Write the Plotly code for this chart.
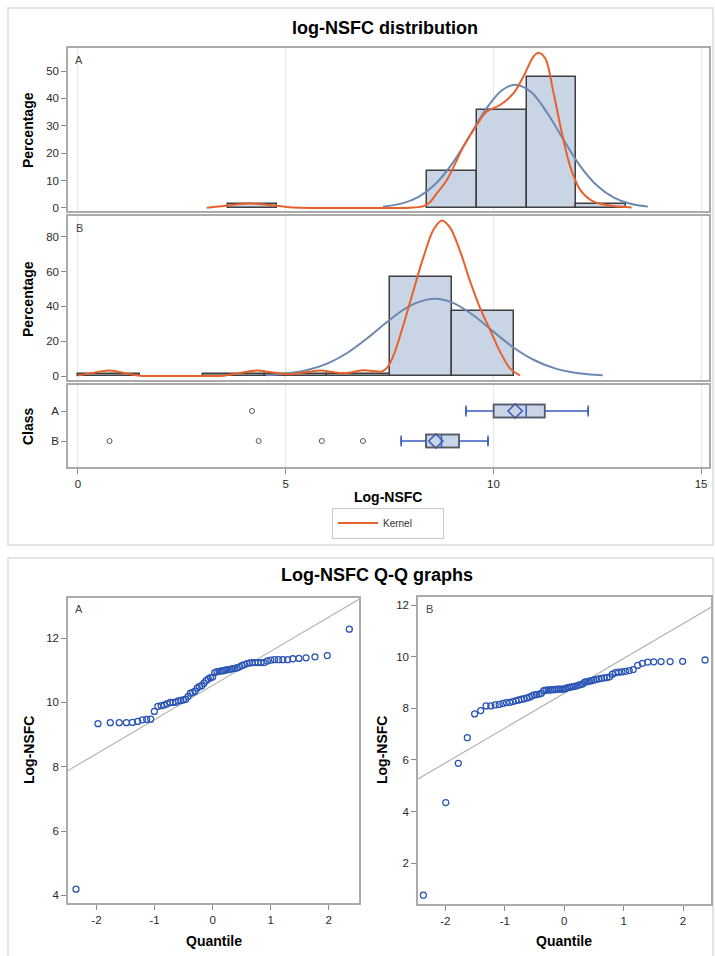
import numpy as np
import plotly.graph_objects as go

W, H = 715, 956

# ---------------- data ----------------
classes = ["A", "B"]

# sorted Log-NSFC values (class A, n=67)
lognsfc_a = [4.19, 9.34, 9.37, 9.37, 9.37, 9.38, 9.41, 9.46, 9.47, 9.48,
             9.72, 9.88, 9.90, 9.92, 9.96, 10.00, 10.00, 10.01, 10.05, 10.06,
             10.08, 10.10, 10.19, 10.29, 10.31, 10.35, 10.45, 10.50, 10.52, 10.60,
             10.68, 10.73, 10.77, 10.79, 10.93, 10.96, 10.97, 10.98, 10.99, 11.01,
             11.02, 11.03, 11.05, 11.06, 11.08, 11.11, 11.15, 11.18, 11.21, 11.23,
             11.24, 11.24, 11.24, 11.24, 11.24, 11.29, 11.32, 11.33, 11.33, 11.33,
             11.33, 11.36, 11.37, 11.39, 11.42, 11.46, 12.28]
# normal quantiles of the Q-Q plot, class A
quantile_a = [-2.353, -1.974, -1.762, -1.608, -1.485, -1.381, -1.290, -1.209, -1.135, -1.066,
              -1.003, -0.943, -0.886, -0.833, -0.781, -0.731, -0.683, -0.637, -0.592, -0.548,
              -0.505, -0.463, -0.422, -0.382, -0.342, -0.303, -0.264, -0.226, -0.188, -0.150,
              -0.112, -0.075, -0.037, 0.000, 0.037, 0.075, 0.112, 0.150, 0.188, 0.226,
              0.264, 0.303, 0.342, 0.382, 0.422, 0.463, 0.505, 0.548, 0.592, 0.637,
              0.683, 0.731, 0.781, 0.833, 0.886, 0.943, 1.003, 1.066, 1.135, 1.209,
              1.290, 1.381, 1.485, 1.608, 1.762, 1.974, 2.353]

# sorted Log-NSFC values (class B, n=70)
lognsfc_b = [0.76, 4.35, 5.87, 6.86, 7.78, 7.91, 8.09, 8.09, 8.13, 8.15,
             8.19, 8.22, 8.23, 8.26, 8.30, 8.32, 8.35, 8.37, 8.40, 8.43,
             8.48, 8.52, 8.53, 8.55, 8.58, 8.68, 8.70, 8.71, 8.71, 8.72,
             8.72, 8.74, 8.74, 8.74, 8.74, 8.76, 8.80, 8.81, 8.83, 8.84,
             8.86, 8.89, 8.92, 8.94, 9.01, 9.03, 9.05, 9.07, 9.10, 9.12,
             9.14, 9.16, 9.18, 9.19, 9.22, 9.32, 9.38, 9.40, 9.41, 9.43,
             9.46, 9.50, 9.66, 9.74, 9.79, 9.80, 9.81, 9.81, 9.82, 9.87]
quantile_b = [-2.370, -1.993, -1.782, -1.630, -1.507, -1.405, -1.315, -1.235, -1.161, -1.094,
              -1.031, -0.972, -0.916, -0.864, -0.812, -0.764, -0.717, -0.672, -0.628, -0.585,
              -0.543, -0.502, -0.462, -0.422, -0.384, -0.346, -0.308, -0.271, -0.234, -0.197,
              -0.161, -0.125, -0.089, -0.054, -0.018, 0.018, 0.054, 0.089, 0.125, 0.161,
              0.197, 0.234, 0.271, 0.308, 0.346, 0.384, 0.422, 0.462, 0.502, 0.543,
              0.585, 0.628, 0.672, 0.717, 0.764, 0.812, 0.864, 0.916, 0.972, 1.031,
              1.094, 1.161, 1.235, 1.315, 1.405, 1.507, 1.630, 1.782, 1.993, 2.370]

# Q-Q reference lines (end points)
refline_a_x = [-2.49, 2.52]
refline_a_y = [7.88, 13.21]
refline_b_x = [-2.46, 2.47]
refline_b_y = [5.26, 11.91]

# fitted normal curves (percent)
normal_a_x = [7.34, 7.8, 8.2, 8.6, 9.0, 9.4, 9.8, 10.2, 10.53, 10.9, 11.3, 11.7, 12.1, 12.5, 12.9, 13.3, 13.72]
normal_a_y = [0.50, 1.67, 4.09, 8.68, 16.0, 25.6, 35.6, 42.9, 45.0, 42.4, 34.6, 24.6, 15.1, 8.1, 3.77, 1.52, 0.50]
normal_b_x = [4.53, 5.0, 5.5, 6.0, 6.5, 7.0, 7.5, 8.0, 8.58, 9.0, 9.5, 10.0, 10.5, 11.0, 11.5, 12.0, 12.63]
normal_b_y = [0.49, 1.31, 3.28, 7.13, 13.5, 22.4, 32.2, 40.5, 44.4, 42.3, 35.2, 25.5, 16.1, 8.9, 4.26, 1.79, 0.49]

# kernel density curves (percent)
kernel_a_x = [3.10, 3.45, 3.80, 4.15, 4.50, 4.85, 5.20, 5.70, 6.50, 7.50,
              8.00, 8.30, 8.45, 8.64, 8.88, 9.28, 9.60, 9.84, 10.16, 10.48,
              10.72, 10.96, 11.08, 11.25, 11.45, 11.65, 11.85, 12.09, 12.41, 12.89, 13.33]
kernel_a_y = [0.10, 0.60, 1.30, 1.60, 1.30, 0.70, 0.15, 0.02, 0.0, 0.0,
              0.1, 0.6, 1.8, 5.4, 10.2, 22.4, 30.3, 35.2, 37.6, 41.8,
              47.9, 55.2, 56.7, 54.6, 41.8, 27.3, 15.1, 6.6, 2.3, 0.7, 0.2]
kernel_b_x = [0.00, 0.35, 0.73, 1.10, 1.50, 2.00, 3.00, 3.50, 3.90, 4.30,
              4.70, 5.10, 5.50, 5.85, 6.10, 6.35, 6.60, 6.87, 7.10, 7.30,
              7.45, 7.60, 7.83, 8.07, 8.31, 8.56, 8.76, 8.96, 9.20, 9.44,
              9.68, 9.92, 10.16, 10.40, 10.64]
kernel_b_y = [0.3, 1.8, 3.1, 1.8, 0.2, 0.0, 0.0, 0.2, 1.8, 3.1,
              2.0, 1.0, 2.2, 3.1, 2.4, 1.6, 2.2, 3.3, 2.9, 2.5,
              5.0, 12.0, 29.0, 48.7, 67.9, 84.2, 89.4, 85.2, 71.7, 54.4,
              39.0, 26.5, 14.0, 4.4, 0.3]

x_ticks = [0, 5, 10, 15]
pct_ticks_a = [0, 10, 20, 30, 40, 50]
pct_ticks_b = [0, 20, 40, 60, 80]
qq_x_ticks = [-2, -1, 0, 1, 2]
qq_y_ticks_a = [4, 6, 8, 10, 12]
qq_y_ticks_b = [2, 4, 6, 8, 10, 12]

# ---------------- styling ----------------
FONT = "Liberation Sans, Arial, sans-serif"
BAR = "#c9d4e4"
BAR_EDGE = "#3f3f3f"
NORMAL = "#6c87b0"
KERNEL = "#e8612c"
WHISK = "#3b5cc0"
FRAME = "#ababab"
GRID = "#e6e6e6"
QQ_MARK = "#2b55b5"
TICKFONT = dict(family=FONT, size=11.5, color="#2a2a2a")


def px_x(p):
    return p / W


def px_y(p):
    return 1 - p / H


fig = go.Figure()

# ---- histograms ----
fig.add_trace(go.Histogram(x=lognsfc_a, xbins=dict(start=3.6, end=13.2, size=1.2),
                           histnorm="percent",
                           marker=dict(color=BAR, line=dict(color=BAR_EDGE, width=1.5)),
                           xaxis="x", yaxis="y", showlegend=False, hoverinfo="skip"))
fig.add_trace(go.Histogram(x=lognsfc_b, xbins=dict(start=0.0, end=10.5, size=1.5),
                           histnorm="percent",
                           marker=dict(color=BAR, line=dict(color=BAR_EDGE, width=1.5)),
                           xaxis="x2", yaxis="y2", showlegend=False, hoverinfo="skip"))

# ---- normal curves ----
for nx, ny, xa, ya in [(normal_a_x, normal_a_y, "x", "y"), (normal_b_x, normal_b_y, "x2", "y2")]:
    fig.add_trace(go.Scatter(x=nx, y=ny, mode="lines",
                             line=dict(color=NORMAL, width=2, shape="spline", smoothing=1.0),
                             xaxis=xa, yaxis=ya, showlegend=False, hoverinfo="skip"))

# ---- kernel curves ----
fig.add_trace(go.Scatter(x=kernel_a_x, y=kernel_a_y, mode="lines", name="Kernel",
                         line=dict(color=KERNEL, width=2, shape="spline", smoothing=0.9),
                         xaxis="x", yaxis="y", showlegend=True, hoverinfo="skip"))
fig.add_trace(go.Scatter(x=kernel_b_x, y=kernel_b_y, mode="lines", name="Kernel",
                         line=dict(color=KERNEL, width=2, shape="spline", smoothing=0.9),
                         xaxis="x2", yaxis="y2", showlegend=False, hoverinfo="skip"))

# ---- box plots ----
shapes = []
BOXW = 0.43
for i, data in enumerate([lognsfc_a, lognsfc_b]):
    arr = np.array(data)
    q1, med, q3 = np.percentile(arr, [25, 50, 75])
    iqr = q3 - q1
    inside = arr[(arr >= q1 - 1.5 * iqr) & (arr <= q3 + 1.5 * iqr)]
    lo, hi = inside.min(), inside.max()
    out = arr[(arr < lo) | (arr > hi)]
    fig.add_trace(go.Box(y=[i], q1=[q1], median=[med], q3=[q3],
                         lowerfence=[lo], upperfence=[hi], orientation="h",
                         width=BOXW, fillcolor=BAR, line=dict(color=WHISK, width=1.5),
                         boxpoints=False, xaxis="x3", yaxis="y3",
                         showlegend=False, hoverinfo="skip"))
    fig.add_trace(go.Scatter(x=[lo, hi], y=[i, i], mode="markers",
                             marker=dict(symbol="line-ns", size=8, color=WHISK,
                                         line=dict(color=WHISK, width=1.5)),
                             xaxis="x3", yaxis="y3", showlegend=False, hoverinfo="skip"))
    shapes.append(dict(type="rect", xref="x3", yref="y3", x0=q1, x1=q3,
                       y0=i - BOXW / 2, y1=i + BOXW / 2,
                       line=dict(color="#5a5a5a", width=1.5), layer="above"))
    fig.add_trace(go.Scatter(x=[arr.mean()], y=[i], mode="markers",
                             marker=dict(symbol="diamond-open", size=11, color=WHISK,
                                         line=dict(color=WHISK, width=1.5)),
                             xaxis="x3", yaxis="y3", showlegend=False, hoverinfo="skip"))
    fig.add_trace(go.Scatter(x=out, y=[i] * len(out), mode="markers",
                             marker=dict(symbol="circle-open", size=5, color="#555555",
                                         line=dict(color="#555555", width=1)),
                             xaxis="x3", yaxis="y3", showlegend=False, hoverinfo="skip"))

# ---- Q-Q plots ----
for qx, qy, lx, ly, xa, ya in [(quantile_a, lognsfc_a, refline_a_x, refline_a_y, "x4", "y4"),
                               (quantile_b, lognsfc_b, refline_b_x, refline_b_y, "x5", "y5")]:
    fig.add_trace(go.Scatter(x=lx, y=ly, mode="lines", line=dict(color="#b4b4b4", width=1.2),
                             xaxis=xa, yaxis=ya, showlegend=False, hoverinfo="skip"))
    fig.add_trace(go.Scatter(x=qx, y=qy, mode="markers",
                             marker=dict(symbol="circle-open", size=6, color=QQ_MARK,
                                         line=dict(color=QQ_MARK, width=1.3)),
                             xaxis=xa, yaxis=ya, showlegend=False, hoverinfo="skip"))

# ---------------- axes ----------------
base = dict(showline=True, mirror=True, linecolor=FRAME, linewidth=1.5, zeroline=False,
            automargin=False, tickfont=TICKFONT, ticks="outside", ticklen=5,
            tickcolor="#8a8a8a", tickwidth=1)

HX = [px_x(68), px_x(709)]
XR = [-0.24, 15.19]
layout_axes = dict(
    xaxis=dict(base, domain=HX, range=XR, tickvals=x_ticks, showticklabels=False, ticks="",
               showgrid=True, gridcolor=GRID, anchor="y"),
    yaxis=dict(base, domain=[px_y(211), px_y(48)], range=[-1.1, 58.4], tickvals=pct_ticks_a,
               showgrid=False, anchor="x"),
    xaxis2=dict(base, domain=HX, range=XR, tickvals=x_ticks, showticklabels=False, ticks="",
                showgrid=True, gridcolor=GRID, anchor="y2"),
    yaxis2=dict(base, domain=[px_y(380), px_y(216)], range=[-2.3, 92], tickvals=pct_ticks_b,
                showgrid=False, anchor="x2"),
    xaxis3=dict(base, domain=HX, range=XR, tickvals=x_ticks,
                showgrid=True, gridcolor=GRID, anchor="y3"),
    yaxis3=dict(base, domain=[px_y(467), px_y(385)], range=[1.867, -0.867], tickvals=[0, 1],
                ticktext=classes, showgrid=False, anchor="x3"),
    xaxis4=dict(base, domain=[px_x(68), px_x(359)], range=[-2.49, 2.52], tickvals=qq_x_ticks,
                ticktext=[str(v) for v in qq_x_ticks], showgrid=False, anchor="y4"),
    yaxis4=dict(base, domain=[px_y(903), px_y(598)], range=[3.76, 13.25], tickvals=qq_y_ticks_a,
                showgrid=False, anchor="x4"),
    xaxis5=dict(base, domain=[px_x(418), px_x(711)], range=[-2.46, 2.47], tickvals=qq_x_ticks,
                ticktext=[str(v) for v in qq_x_ticks], showgrid=False, anchor="y5"),
    yaxis5=dict(base, domain=[px_y(904), px_y(597)], range=[0.42, 12.31], tickvals=qq_y_ticks_b,
                showgrid=False, anchor="x5"),
)

# ---------------- annotations ----------------
def ann(text, x, y, size, bold=False, angle=0, color="#000000"):
    return dict(text=("<b>%s</b>" % text) if bold else text, x=px_x(x), y=px_y(y),
                xref="paper", yref="paper", xanchor="center", yanchor="middle",
                showarrow=False, textangle=angle,
                font=dict(family=FONT, size=size, color=color))


annotations = [
    ann("log-NSFC distribution", 385, 28, 18, bold=True),
    ann("Log-NSFC Q-Q graphs", 377, 575, 18, bold=True),
    ann("Percentage", 28, 130, 14, bold=True, angle=-90),
    ann("Percentage", 28, 299, 14, bold=True, angle=-90),
    ann("Class", 28, 426, 14, bold=True, angle=-90),
    ann("Log-NSFC", 388, 497, 14, bold=True),
    ann("Log-NSFC", 29, 750, 14, bold=True, angle=-90),
    ann("Log-NSFC", 382, 750, 14, bold=True, angle=-90),
    ann("Quantile", 214, 941, 14, bold=True),
    ann("Quantile", 564, 941, 14, bold=True),
    ann("A", 79, 60, 11, color="#444444"),
    ann("B", 79, 228, 11, color="#444444"),
    ann("A", 79, 609, 11, color="#444444"),
    ann("B", 430, 609, 11, color="#444444"),
]

# outer group frames
shapes += [
    dict(type="rect", xref="paper", yref="paper", x0=px_x(8), x1=px_x(713),
         y0=px_y(545), y1=px_y(8), line=dict(color="#dcdcdc", width=1.5), layer="below"),
    dict(type="rect", xref="paper", yref="paper", x0=px_x(8), x1=px_x(713),
         y0=px_y(962), y1=px_y(558), line=dict(color="#dcdcdc", width=1.5), layer="below"),
]

fig.update_layout(
    width=W, height=H, margin=dict(l=0, r=0, t=0, b=0),
    paper_bgcolor="white", plot_bgcolor="white",
    font=dict(family=FONT, size=11, color="#333333"),
    bargap=0, barmode="overlay",
    showlegend=True,
    legend=dict(x=px_x(388), y=px_y(523), xanchor="center", yanchor="middle",
                bordercolor="#c8c8c8", borderwidth=1, bgcolor="white",
                entrywidth=55, entrywidthmode="pixels", itemwidth=40,
                font=dict(family=FONT, size=10, color="#333333"), orientation="h"),
    annotations=annotations, shapes=shapes,
    **layout_axes,
)

fig.write_html("out.html")
